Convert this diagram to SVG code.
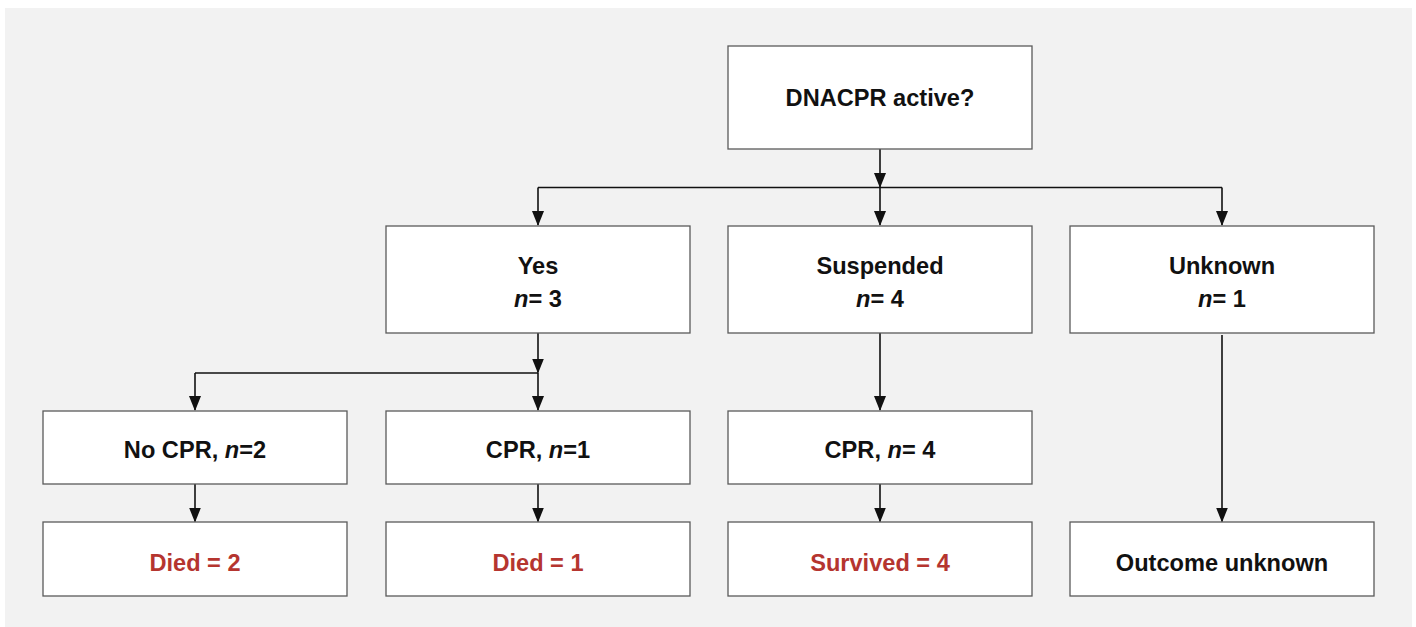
<svg xmlns="http://www.w3.org/2000/svg" width="1416" height="627" viewBox="0 0 1416 627">
<style>
.box{fill:#ffffff;stroke:#5a5a5a;stroke-width:1.3}
.t{font-family:"Liberation Sans",Arial,sans-serif;font-weight:bold;font-size:23.6px;fill:#111111;text-anchor:middle}
.red{fill:#b5352f}
.i{font-style:italic}
.c{fill:none;stroke:#111111;stroke-width:1.6}
</style>
<defs>
<marker id="ah" markerUnits="userSpaceOnUse" markerWidth="15" markerHeight="12" viewBox="0 0 15 12" refX="14" refY="6" orient="auto">
<path d="M0,0 L15,6 L0,12 z" fill="#111111"/>
</marker>
</defs>
<rect x="0" y="0" width="1416" height="627" fill="#ffffff"/>
<rect x="5" y="8" width="1407" height="619" fill="#f2f2f2"/>
<g id="connectors">
<line class="c" x1="538" y1="187.5" x2="1222" y2="187.5"/>
<line class="c" x1="195" y1="373" x2="538" y2="373"/>
<line class="c" x1="880" y1="149" x2="880" y2="187" marker-end="url(#ah)"/>
<line class="c" x1="538" y1="187.5" x2="538" y2="225" marker-end="url(#ah)"/>
<line class="c" x1="880" y1="187.5" x2="880" y2="225" marker-end="url(#ah)"/>
<line class="c" x1="1222" y1="187.5" x2="1222" y2="225" marker-end="url(#ah)"/>
<line class="c" x1="538" y1="333" x2="538" y2="372.5" marker-end="url(#ah)"/>
<line class="c" x1="195" y1="373" x2="195" y2="410" marker-end="url(#ah)"/>
<line class="c" x1="538" y1="373" x2="538" y2="410" marker-end="url(#ah)"/>
<line class="c" x1="880" y1="333" x2="880" y2="410" marker-end="url(#ah)"/>
<line class="c" x1="195" y1="484" x2="195" y2="521.5" marker-end="url(#ah)"/>
<line class="c" x1="538" y1="484" x2="538" y2="521.5" marker-end="url(#ah)"/>
<line class="c" x1="880" y1="484" x2="880" y2="521.5" marker-end="url(#ah)"/>
<line class="c" x1="1222" y1="335" x2="1222" y2="521.5" marker-end="url(#ah)"/>
</g>
<g id="n-dnacpr">
<rect class="box" x="728" y="46" width="304" height="103"/>
<text class="t" x="880" y="105.5">DNACPR active?</text>
</g>
<g id="n-yes">
<rect class="box" x="386" y="226" width="304" height="107"/>
<text class="t" x="538" y="274">Yes</text>
<text class="t" x="538" y="307"><tspan class="i">n</tspan>= 3</text>
</g>
<g id="n-suspended">
<rect class="box" x="728" y="226" width="304" height="107"/>
<text class="t" x="880" y="274">Suspended</text>
<text class="t" x="880" y="307"><tspan class="i">n</tspan>= 4</text>
</g>
<g id="n-unknown">
<rect class="box" x="1070" y="226" width="304" height="107"/>
<text class="t" x="1222" y="274">Unknown</text>
<text class="t" x="1222" y="307"><tspan class="i">n</tspan>= 1</text>
</g>
<g id="n-nocpr">
<rect class="box" x="43" y="411" width="304" height="73"/>
<text class="t" x="195" y="458">No CPR, <tspan class="i">n</tspan>=2</text>
</g>
<g id="n-cpr1">
<rect class="box" x="386" y="411" width="304" height="73"/>
<text class="t" x="538" y="458">CPR, <tspan class="i">n</tspan>=1</text>
</g>
<g id="n-cpr4">
<rect class="box" x="728" y="411" width="304" height="73"/>
<text class="t" x="880" y="458">CPR, <tspan class="i">n</tspan>= 4</text>
</g>
<g id="n-died2">
<rect class="box" x="43" y="522" width="304" height="74"/>
<text class="t red" x="195" y="570.5">Died = 2</text>
</g>
<g id="n-died1">
<rect class="box" x="386" y="522" width="304" height="74"/>
<text class="t red" x="538" y="570.5">Died = 1</text>
</g>
<g id="n-survived">
<rect class="box" x="728" y="522" width="304" height="74"/>
<text class="t red" x="880" y="570.5">Survived = 4</text>
</g>
<g id="n-outcome">
<rect class="box" x="1070" y="522" width="304" height="74"/>
<text class="t" x="1222" y="570.5">Outcome unknown</text>
</g>
</svg>
